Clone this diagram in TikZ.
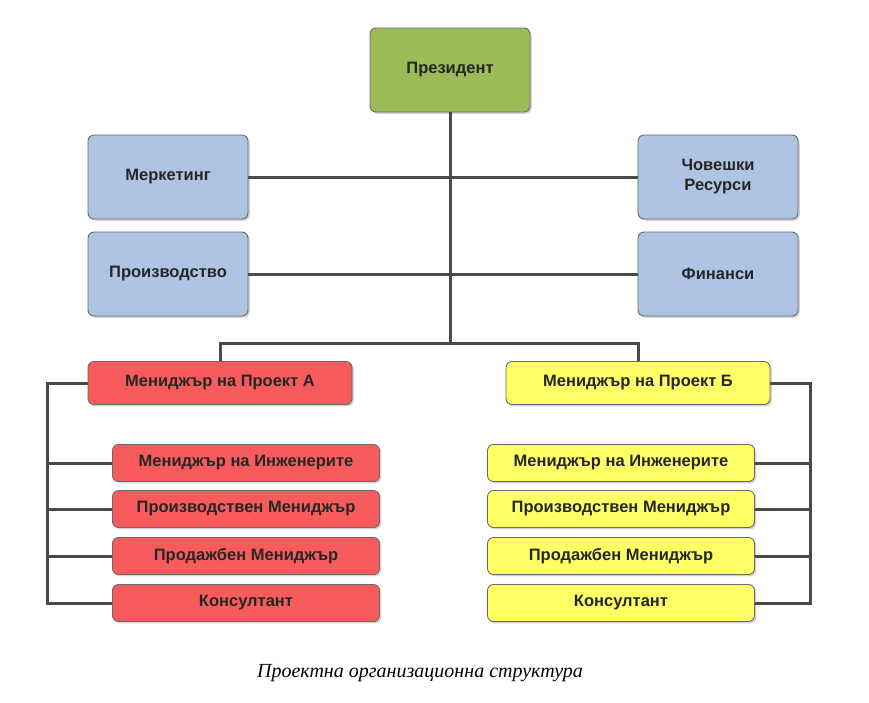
\documentclass[tikz,border=0pt]{standalone}
\usepackage{fontspec}
\setmainfont{Liberation Sans}
\newfontfamily\captionfont{Liberation Serif}
\usetikzlibrary{shadows}

\definecolor{presgreen}{HTML}{9BBB59}
\definecolor{deptblue}{HTML}{AFC4E2}
\definecolor{projred}{HTML}{F75B5B}
\definecolor{projyellow}{HTML}{FFFF66}
\definecolor{linegray}{HTML}{4A4A4A}
\definecolor{edgegray}{HTML}{6A6A6A}

\tikzset{
  box/.style={draw=edgegray, line width=0.9pt, rounded corners=6pt, align=center,
    inner sep=0pt, text=black!85,
    font=\bfseries\fontsize{16.5}{20}\selectfont,
    drop shadow={shadow xshift=1.8pt, shadow yshift=-1.8pt, opacity=0.35}},
  deptbox/.style={box, fill=deptblue, minimum width=160pt, minimum height=84pt},
  projbox/.style={box, minimum width=264pt, minimum height=43pt},
  subbox/.style={box, minimum width=267pt, minimum height=37pt},
  conn/.style={draw=linegray, line width=3pt}
}

\begin{document}
\begin{tikzpicture}[x=1pt,y=-1pt]
\useasboundingbox (0,0) rectangle (869,702);

\node[box, fill=presgreen, minimum width=160pt, minimum height=84pt] (pres) at (450,70) {Президент};
\node[deptbox] (mark) at (168,177) {Меркетинг};
\node[deptbox] (hr) at (718,177) {Човешки\\Ресурси};
\node[deptbox] (prod) at (168,274) {Производство};
\node[deptbox] (fin) at (718,274) {Финанси};

\node[projbox, fill=projred] (pa) at (220,383) {Мениджър на Проект А};
\node[projbox, fill=projyellow] (pb) at (638,383) {Мениджър на Проект Б};

\node[subbox, fill=projred] (a1) at (246,463) {Мениджър на Инженерите};
\node[subbox, fill=projred] (a2) at (246,509) {Производствен Мениджър};
\node[subbox, fill=projred] (a3) at (246,556) {Продажбен Мениджър};
\node[subbox, fill=projred] (a4) at (246,603) {Консултант};
\node[subbox, fill=projyellow] (b1) at (621,463) {Мениджър на Инженерите};
\node[subbox, fill=projyellow] (b2) at (621,509) {Производствен Мениджър};
\node[subbox, fill=projyellow] (b3) at (621,556) {Продажбен Мениджър};
\node[subbox, fill=projyellow] (b4) at (621,603) {Консултант};

\coordinate (split) at (450,343);
\coordinate (busA) at (47,383);
\coordinate (busB) at (810,383);

% president down to the project split
\path[conn] (pres.south) -- (split);
\path[conn] (mark.east) -- (hr.west);
\path[conn] (prod.east) -- (fin.west);
\path[conn] (pa.north) |- (split) -| (pb.north);

% project buses
\path[conn] (pa.west) -- (busA) |- (a4.west);
\path[conn] (pb.east) -- (busB) |- (b4.east);
\foreach \n in {a1,a2,a3}
  \path[conn] (\n.west) -- (busA |- \n.west);
\foreach \n in {b1,b2,b3}
  \path[conn] (\n.east) -- (busB |- \n.east);

\node[font=\captionfont\itshape\fontsize{20}{24}\selectfont] (caption) at (420,673) {Проектна организационна структура};
\end{tikzpicture}
\end{document}
